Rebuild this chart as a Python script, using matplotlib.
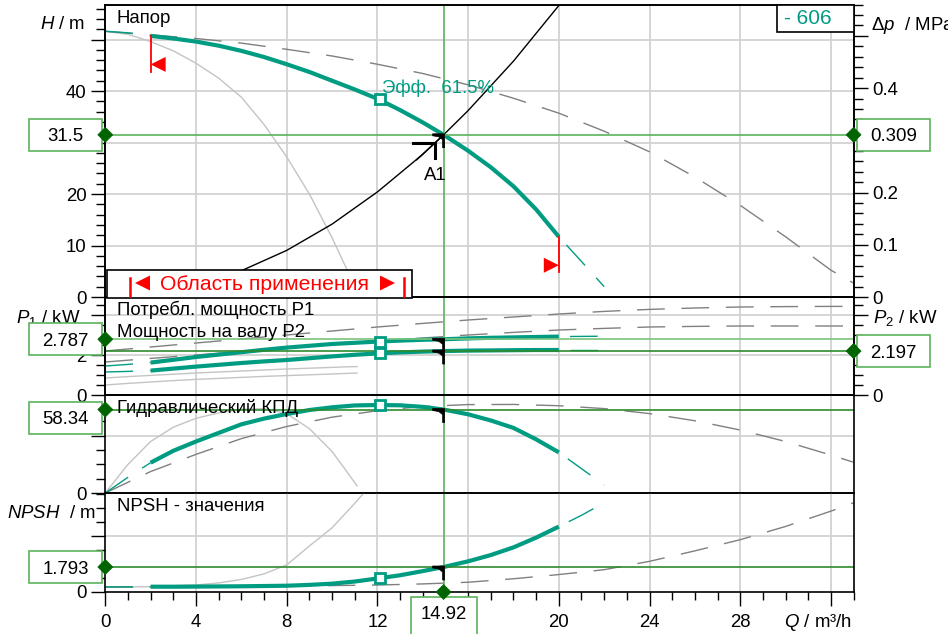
import numpy as np
import matplotlib
matplotlib.use("Agg")
import matplotlib.pyplot as plt
from matplotlib.lines import Line2D
from matplotlib.patches import Rectangle, Polygon
from matplotlib.transforms import IdentityTransform

plt.rcParams['font.family'] = ['Liberation Sans', 'DejaVu Sans']
plt.rcParams['lines.scale_dashes'] = False
plt.rcParams['mathtext.fontset'] = 'custom'
plt.rcParams['mathtext.rm'] = 'Liberation Sans'
plt.rcParams['mathtext.it'] = 'Liberation Sans:italic'

# ------------------------------------------------------------------ data
q_op, h_op, dp_op = 14.92, 31.5, 0.309
p1_op, p2_op, eta_op, npsh_op = 2.787, 2.197, 58.34, 1.793
q_mark = 12.1
h_mark, p1_mark, p2_mark, eta_mark, npsh_mark = 38.4, 2.67, 2.08, 61.5, 0.98
eta_text = "Эфф.  61.5%"
pump_id = "- 606"

# operating range (thick teal curves)
q_work = [2, 3, 4, 5, 6, 7, 8, 9, 10, 11, 12, 13, 14, 14.92, 16, 17, 18, 19, 20]
h_work = [50.7, 50.2, 49.6, 48.8, 47.8, 46.6, 45.2, 43.7, 42.0, 40.3, 38.5, 36.3, 33.9, 31.5, 28.4, 25.2, 21.5, 17.0, 11.7]
p1_work = [1.62, 1.76, 1.90, 2.02, 2.14, 2.26, 2.37, 2.46, 2.55, 2.61, 2.67, 2.72, 2.76, 2.787, 2.83, 2.86, 2.88, 2.90, 2.92]
p2_work = [1.22, 1.32, 1.42, 1.51, 1.60, 1.68, 1.75, 1.84, 1.93, 2.01, 2.08, 2.13, 2.17, 2.197, 2.22, 2.23, 2.24, 2.25, 2.25]
eta_work = [21.2, 29.5, 36.0, 42.0, 48.0, 52.0, 55.2, 58.0, 59.9, 61.2, 61.5, 61.3, 60.2, 58.34, 55.0, 50.7, 45.5, 37.5, 28.4]
npsh_work = [0.38, 0.38, 0.39, 0.40, 0.41, 0.43, 0.45, 0.51, 0.60, 0.75, 0.97, 1.20, 1.50, 1.793, 2.20, 2.65, 3.20, 3.90, 4.69]

# outside operating range (thin dashed teal)
q_lo = [0, 1, 2]
h_lo, p1_lo, p2_lo = [51.6, 51.3, 50.7], [1.45, 1.53, 1.62], [1.15, 1.18, 1.22]
eta_lo, npsh_lo = [0.0, 11.0, 21.2], [0.37, 0.37, 0.38]
q_hi = [20, 21, 22]
h_hi, p1_hi, p2_hi = [11.7, 6.9, 2.0], [2.92, 2.93, 2.94], [2.25, 2.25, 2.25]
eta_hi, npsh_hi = [28.4, 17.0, 5.6], [4.69, 5.5, 6.4]

# max impeller (grey dashed)
q_max = [0, 2, 4, 6, 8, 10, 12, 14, 16, 18, 20, 22, 24, 26, 28, 30, 32, 33]
h_max = [51.6, 50.9, 50.2, 49.3, 48.1, 46.8, 45.2, 43.4, 41.2, 38.6, 35.7, 32.2, 28.2, 23.3, 17.8, 11.7, 5.2, 2.7]
p1_max = [2.2, 2.4, 2.6, 2.8, 3.0, 3.2, 3.4, 3.58, 3.75, 3.9, 4.05, 4.18, 4.28, 4.35, 4.4, 4.42, 4.43, 4.43]
p2_max = [1.65, 1.83, 2.0, 2.18, 2.35, 2.53, 2.7, 2.85, 3.0, 3.13, 3.25, 3.33, 3.4, 3.43, 3.45, 3.45, 3.45, 3.45]
eta_max = [0, 15, 27, 38, 46.5, 53, 57.5, 60.5, 61.8, 61.9, 61.0, 59.0, 55.5, 50.5, 44.0, 36.0, 26.5, 21.5]
npsh_max = [0.35, 0.36, 0.38, 0.40, 0.42, 0.46, 0.50, 0.58, 0.70, 0.95, 1.25, 1.60, 2.20, 2.95, 3.75, 4.70, 5.80, 6.40]

# min impeller (grey solid)
q_min = [0, 1, 2, 3, 4, 5, 6, 7, 8, 9, 10, 10.65, 11.1]
h_min = [51.6, 51.0, 49.6, 47.8, 45.4, 42.5, 38.8, 33.5, 27.2, 20.0, 11.5, 5.4, 0.0]
p1_min = [0.85, 0.92, 0.98, 1.04, 1.10, 1.15, 1.20, 1.25, 1.30, 1.34, 1.38, 1.41, 1.42]
p2_min = [0.50, 0.58, 0.65, 0.72, 0.78, 0.83, 0.88, 0.93, 0.97, 1.01, 1.05, 1.08, 1.10]
eta_min = [0, 20, 36, 46, 52.2, 56, 58.5, 59, 55.5, 45, 29, 15, 5]
q_nmin = [0, 2, 4, 5, 6, 7, 8, 9, 10, 11, 11.4]
npsh_min = [0.35, 0.38, 0.50, 0.65, 0.90, 1.30, 1.94, 3.30, 4.60, 6.36, 7.1]

# system curve
q_sys = [0, 2, 4, 6, 8, 10, 12, 14, 14.92, 16, 18, 20, 20.2]
h_sys = [0, 0.57, 2.26, 5.1, 9.05, 14.15, 20.4, 27.7, 31.5, 36.2, 45.8, 56.6, 57.7]

q_ticks = [0, 4, 8, 12, 16, 20, 24, 28, 32]
q_labels = ['0', '4', '8', '12', '16', '20', '24', '28', '']

# ------------------------------------------------------------------ style
W, HP = 948, 634
FS = 13.4
TEAL = '#009c82'
GRID = '#d2d2d2'
GDASH = '#808080'
GSOL = '#c4c4c4'
GLINE = '#5cb35c'
GDARK = '#2e8b2e'
DIAM = '#006400'
ID = IdentityTransform()
DASH = (0, (20, 12))
TDASH = (0, (20, 12))

fig = plt.figure(figsize=(W / 100, HP / 100), dpi=100)
X0, X1 = 105.3, 853.6


def add_ax(ytop, ybot):
    return fig.add_axes([X0 / W, 1 - ybot / HP, (X1 - X0) / W, (ybot - ytop) / HP])


ax_h = add_ax(4.5, 297)
ax_p = add_ax(297, 395)
ax_e = add_ax(395, 493)
ax_n = add_ax(493, 592)
axes = [ax_h, ax_p, ax_e, ax_n]
ylims = [(0, 56.8), (0, 4.9), (0, 68.5), (0, 7.1)]
hgrid = [[10, 20, 30, 40, 50], [2, 4], [40], [4]]

for ax, yl, hg in zip(axes, ylims, hgrid):
    ax.set_xlim(0, 33)
    ax.set_ylim(*yl)
    ax.patch.set_alpha(0)
    for s in ax.spines.values():
        s.set_linewidth(1.2)
        s.set_color('black')
        s.set_zorder(6)
    for q in q_ticks[1:]:
        ax.axvline(q, color=GRID, lw=1.3, zorder=0)
    for v in hg:
        ax.axhline(v, color=GRID, lw=1.3, zorder=0)
    ax.set_xticks(q_ticks)
    ax.set_xticks(np.arange(0, 34, 1), minor=True)
    ax.tick_params(axis='y', which='major', length=10, width=1, labelsize=FS, pad=3.6, direction='out')
    ax.tick_params(axis='y', which='minor', length=6.5, width=1, direction='out')
    if ax is not ax_n:
        ax.tick_params(axis='x', which='both', length=0, labelbottom=False)

ax_n.set_xticklabels(q_labels)
ax_n.tick_params(axis='x', which='major', length=10, width=1, labelsize=FS, pad=5.5)
ax_n.tick_params(axis='x', which='minor', length=5.8, width=1)

# y ticks
ax_h.set_yticks([0, 10, 20, 30, 40, 50])
ax_h.set_yticklabels(['0', '10', '20', '', '40', ''])
ax_h.set_yticks(np.arange(0, 57, 2), minor=True)
ax_p.set_yticks([0, 2, 4])
ax_p.set_yticklabels(['0', '2', ''])
ax_p.set_yticks(np.arange(0, 5, 0.5), minor=True)
ax_e.set_yticks([0, 40])
ax_e.set_yticklabels(['0', ''])
ax_e.set_yticks(np.arange(0, 68, 10), minor=True)
ax_n.set_yticks([0, 4])
ax_n.set_yticklabels(['0', ''])
ax_n.set_yticks(np.arange(0, 7.1, 1), minor=True)

# right axes
DPF = 0.00981
ax_hr = ax_h.twinx()
ax_hr.set_ylim(0, 56.8 * DPF)
ax_hr.set_yticks([0, 0.1, 0.2, 0.3, 0.4, 0.5])
ax_hr.set_yticklabels(['0', '0.1', '0.2', '', '0.4', ''])
ax_hr.set_yticks(np.arange(0, 0.56, 0.02), minor=True)
ax_pr = ax_p.twinx()
ax_pr.set_ylim(0, 4.9)
ax_pr.set_yticks([0, 2, 4])
ax_pr.set_yticklabels(['0', '', ''])
ax_pr.set_yticks(np.arange(0, 5, 0.5), minor=True)
for ax in (ax_hr, ax_pr):
    ax.tick_params(axis='y', which='major', length=10, width=1, labelsize=FS, pad=3.6)
    ax.tick_params(axis='y', which='minor', length=6.5, width=1)
    for s in ax.spines.values():
        s.set_linewidth(1.2)

# ------------------------------------------------------------------ curves
ax_h.plot(q_min, h_min, color=GSOL, lw=1.0, zorder=1)
ax_h.plot(q_max, h_max, color=GDASH, lw=1.0, ls=DASH, zorder=1)
ax_h.plot(q_sys, h_sys, color='black', lw=1.0, zorder=2)

ax_p.plot(q_min, p1_min, color=GSOL, lw=1.0, zorder=1)
ax_p.plot(q_min, p2_min, color=GSOL, lw=1.0, zorder=1)
ax_p.plot(q_max, p1_max, color=GDASH, lw=1.0, ls=DASH, zorder=1)
ax_p.plot(q_max, p2_max, color=GDASH, lw=1.0, ls=DASH, zorder=1)

ax_e.plot(q_min, eta_min, color=GSOL, lw=1.0, zorder=1)
ax_e.plot(q_max, eta_max, color=GDASH, lw=1.0, ls=DASH, zorder=1)

ax_n.plot(q_nmin, npsh_min, color=GSOL, lw=1.0, zorder=1)
ax_n.plot(q_max, npsh_max, color=GDASH, lw=1.0, ls=DASH, zorder=1)

for ax, lo, work, hi in [(ax_h, h_lo, h_work, h_hi),
                         (ax_p, p1_lo, p1_work, p1_hi),
                         (ax_p, p2_lo, p2_work, p2_hi),
                         (ax_e, eta_lo, eta_work, eta_hi),
                         (ax_n, npsh_lo, npsh_work, npsh_hi)]:
    ax.plot(q_lo, lo, color=TEAL, lw=1.0, ls=TDASH, zorder=3)
    ax.plot(q_hi, hi, color=TEAL, lw=1.0, ls=(24, (20, 12)), zorder=3)
    ax.plot(q_work, work, color=TEAL, lw=3.0, zorder=4, solid_capstyle='butt')

for ax, v in [(ax_h, h_mark), (ax_p, p1_mark), (ax_p, p2_mark), (ax_e, eta_mark), (ax_n, npsh_mark)]:
    ax.plot([q_mark], [v], marker='s', ms=7.2, mfc='white', mec=TEAL, mew=2.0, zorder=5)

# operating lines
for ax in axes:
    ax.axvline(q_op, color=GLINE, lw=1.2, zorder=4.5)
ax_h.axhline(h_op, color=GLINE, lw=1.2, zorder=4.5)
ax_p.axhline(p1_op, color='#7cc47c', lw=1.2, zorder=4.5)
ax_p.axhline(p2_op, color=GDARK, lw=1.2, zorder=4.5)
ax_e.axhline(eta_op, color=GDARK, lw=1.2, zorder=4.5)
ax_n.axhline(npsh_op, color=GDARK, lw=1.2, zorder=4.5)


# ------------------------------------------------------------------ helpers in pixel space
def anchor(ax, q, v):
    x, y = ax.transData.transform((q, v))
    return x, HP - y  # image coords (y down)


def line_px(pts, **kw):
    xs = [p[0] for p in pts]
    ys = [HP - p[1] for p in pts]
    fig.add_artist(Line2D(xs, ys, transform=ID, **kw))


def poly_px(pts, **kw):
    fig.add_artist(Polygon([(p[0], HP - p[1]) for p in pts], closed=True, transform=ID, **kw))


def text_px(x, y, s, **kw):
    fig.text(x, HP - y, s, transform=ID, **kw)


def box_px(x0, y0, x1, y1, ec, z=8):
    fig.add_artist(Rectangle((x0, HP - y1), x1 - x0, y1 - y0, transform=ID,
                             fc='white', ec=ec, lw=1.2, zorder=z))


def op_corner(ax, q, v):
    x, y = anchor(ax, q, v)
    poly_px([(x - 11, y - 1), (x + 1, y - 1), (x + 1, y + 13), (x - 1, y + 13),
             (x - 1, y + 5), (x - 5, y + 2), (x - 11, y + 1)], fc='black', ec='black', lw=0.5, zorder=9)


def diamond(ax, q, v):
    x, y = anchor(ax, q, v)
    poly_px([(x - 7.5, y), (x, y - 7.5), (x + 7.5, y), (x, y + 7.5)], fc=DIAM, ec=DIAM, lw=0.5, zorder=12)


for ax, v in [(ax_h, h_op), (ax_p, p1_op), (ax_p, p2_op), (ax_e, eta_op), (ax_n, npsh_op)]:
    op_corner(ax, q_op, v)

# A1 arrow
xo, yo = anchor(ax_h, q_op, h_op)
line_px([(xo, yo), (xo - 27, yo + 25)], color='black', lw=1.0, zorder=9)
line_px([(xo - 31, yo + 8), (xo - 8.6, yo + 8), (xo - 8.6, yo + 23)], color='black', lw=2.2,
        solid_joinstyle='miter', zorder=9)
text_px(xo - 8, yo + 45, 'A1', fontsize=FS, ha='center', va='baseline', zorder=9)

# red limits of operating range
xa, ya = anchor(ax_h, q_work[0], h_work[0])
line_px([(xa, ya), (xa, ya + 36)], color='red', lw=1.3, zorder=9)
poly_px([(xa, ya + 28.5), (xa + 15, ya + 21), (xa + 15, ya + 36)], fc='red', ec='none', zorder=9)
xb, yb = anchor(ax_h, q_work[-1], h_work[-1])
line_px([(xb, yb), (xb, yb + 35)], color='red', lw=1.3, zorder=9)
poly_px([(xb, yb + 28.5), (xb - 15, yb + 21), (xb - 15, yb + 36)], fc='red', ec='none', zorder=9)

# range box
box_px(107, 270, 412, 297.5, 'black', z=8)
line_px([(129.5, 278), (129.5, 296)], color='red', lw=1.8, zorder=9)
line_px([(404, 278), (404, 296)], color='red', lw=1.8, zorder=9)
poly_px([(135, 283), (150, 275.5), (150, 290.5)], fc='red', ec='none', zorder=9)
poly_px([(395, 283), (380, 275.5), (380, 290.5)], fc='red', ec='none', zorder=9)
text_px(160, 290, 'Область применения', fontsize=15.2, color='red', ha='left', va='baseline', zorder=9)

# panel titles
text_px(117, 23, 'Напор', fontsize=FS, va='baseline', zorder=9)
text_px(117, 315, 'Потребл. мощность P1', fontsize=FS, va='baseline', zorder=9)
text_px(117, 337, 'Мощность на валу P2', fontsize=FS, va='baseline', zorder=9)
text_px(117, 413, 'Гидравлический КПД', fontsize=FS, va='baseline', zorder=9)
text_px(117, 511, 'NPSH - значения', fontsize=FS, va='baseline', zorder=9)
xm, ym = anchor(ax_h, q_mark, h_mark)
text_px(xm + 2, ym - 6.5, eta_text, fontsize=FS, color=TEAL, va='baseline', zorder=9)

# axis labels
text_px(85, 29, '$H$ / m', fontsize=FS, ha='right', va='baseline', zorder=7)
text_px(871, 30, r'$\Delta p$  / MPa', fontsize=FS, ha='left', va='baseline', zorder=7)
text_px(16, 323, '$P_{1}$ / kW', fontsize=FS, ha='left', va='baseline', zorder=7)
text_px(873, 323.5, '$P_{2}$ / kW', fontsize=FS, ha='left', va='baseline', zorder=7)
text_px(7, 518.5, '$NPSH$  / m', fontsize=FS, ha='left', va='baseline', zorder=7)
text_px(784, 626.7, '$Q$ / m³/h', fontsize=FS, ha='left', va='baseline', zorder=7)


# value boxes
def value_box(ax, v, side, label, shift=0.0):
    _, y = anchor(ax, 0, v)
    y = y + shift
    if side == 'left':
        x0, x1 = 29, 102
    else:
        x0, x1 = 857, 930
    box_px(x0, y - 16, x1, y + 16, GLINE, z=10)
    text_px((x0 + x1) / 2, y + 6.6, label, fontsize=FS, ha='center', va='baseline', zorder=11)


value_box(ax_h, h_op, 'left', f'{h_op}')
value_box(ax_h, h_op, 'right', f'{dp_op}')
value_box(ax_p, p1_op, 'left', f'{p1_op}')
value_box(ax_p, p2_op, 'right', f'{p2_op}')
value_box(ax_e, eta_op, 'left', f'{eta_op}', shift=8)
value_box(ax_n, npsh_op, 'left', f'{npsh_op}')

xq, _ = anchor(ax_n, q_op, 0)
box_px(xq - 33, 597, xq + 33, 640, GLINE, z=10)
text_px(xq, 619, f'{q_op}', fontsize=FS, ha='center', va='baseline', zorder=11)

for ax, q, v in [(ax_h, 0, h_op), (ax_h, 33, h_op), (ax_p, 0, p1_op), (ax_p, 33, p2_op),
                 (ax_e, 0, eta_op), (ax_n, 0, npsh_op), (ax_n, q_op, 0)]:
    diamond(ax, q, v)

# pump id box
box_px(777, 4.5, 854, 32, 'black', z=10)
text_px(784, 23.5, pump_id, fontsize=15.0, color=TEAL, ha='left', va='baseline', zorder=11)

fig.savefig('out.png', dpi=100)
